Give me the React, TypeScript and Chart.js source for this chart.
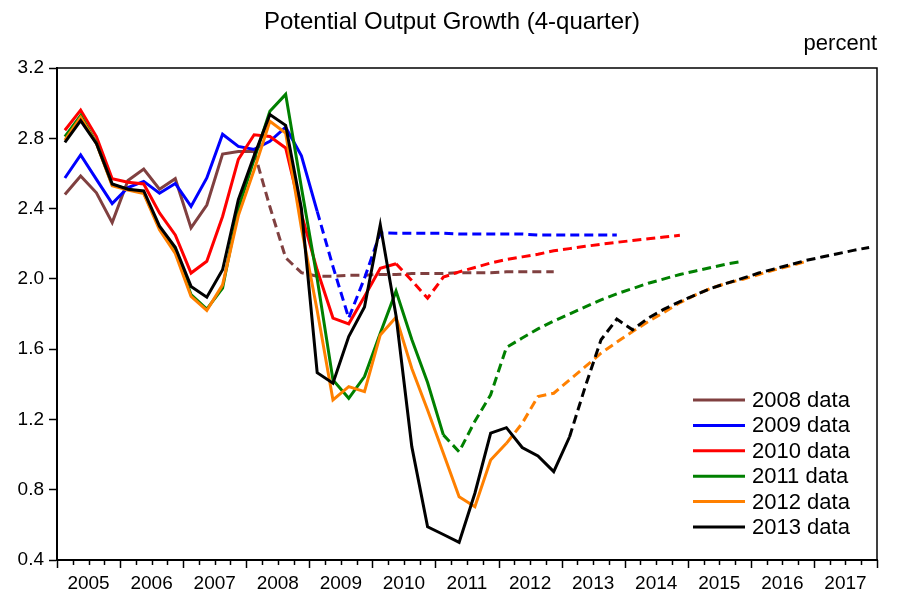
import { useEffect, useRef } from 'react';
import { Chart, registerables } from 'chart.js';

Chart.register(...registerables);

// ---------- data ----------
const titleText = 'Potential Output Growth (4-quarter)';
const unitText = 'percent';
const yearLabels = ['2005', '2006', '2007', '2008', '2009', '2010', '2011', '2012', '2013', '2014', '2015', '2016', '2017'];
const seriesLabels = ['2008 data', '2009 data', '2010 data', '2011 data', '2012 data', '2013 data'];
const seriesColors = ['#804040', '#0000ff', '#ff0000', '#008000', '#ff8000', '#000000'];

// quarterly values, starting 2005Q1; "actual" = solid, "proj" = dashed continuation
const actual2008 = [2.48, 2.585, 2.49, 2.32, 2.56, 2.625, 2.51, 2.57, 2.29, 2.42, 2.71, 2.725, 2.725];
const proj2008 = [2.41, 2.12, 2.035, 2.015, 2.015, 2.02, 2.02, 2.025, 2.025, 2.03, 2.03, 2.03, 2.035, 2.035, 2.035, 2.04, 2.04, 2.04, 2.04];

const actual2009 = [2.574, 2.705, 2.566, 2.428, 2.52, 2.555, 2.487, 2.543, 2.412, 2.574, 2.823, 2.754, 2.737, 2.783, 2.863, 2.70, 2.384];
const proj2009 = [2.07, 1.777, 2.004, 2.261, 2.26, 2.26, 2.26, 2.26, 2.255, 2.255, 2.255, 2.255, 2.255, 2.25, 2.25, 2.25, 2.25, 2.25, 2.25];

const actual2010 = [2.846, 2.96, 2.81, 2.57, 2.55, 2.54, 2.375, 2.25, 2.033, 2.10, 2.355, 2.68, 2.82, 2.81, 2.745, 2.37, 2.05, 1.777, 1.744, 1.90, 2.06, 2.086];
const proj2010 = [1.99, 1.89, 2.01, 2.04, 2.065, 2.09, 2.11, 2.125, 2.14, 2.16, 2.172, 2.185, 2.197, 2.208, 2.218, 2.228, 2.238, 2.248];

const actual2011 = [2.81, 2.93, 2.774, 2.536, 2.51, 2.49, 2.29, 2.166, 1.91, 1.828, 1.947, 2.40, 2.68, 2.954, 3.05, 2.52, 2.0, 1.425, 1.32, 1.444, 1.69, 1.93, 1.655, 1.41, 1.112];
const proj2011 = [1.016, 1.19, 1.34, 1.61, 1.663, 1.715, 1.76, 1.80, 1.84, 1.88, 1.915, 1.945, 1.975, 2.0, 2.025, 2.045, 2.065, 2.085, 2.10];

const actual2012 = [2.79, 2.92, 2.77, 2.53, 2.505, 2.485, 2.28, 2.145, 1.90, 1.82, 1.966, 2.36, 2.62, 2.897, 2.83, 2.29, 1.82, 1.311, 1.387, 1.358, 1.681, 1.782, 1.49, 1.254, 1.007, 0.76, 0.703, 0.969, 1.064];
const proj2012 = [1.178, 1.33, 1.349, 1.425, 1.50, 1.577, 1.64, 1.70, 1.757, 1.81, 1.865, 1.909, 1.947, 1.976, 1.998, 2.025, 2.051, 2.074, 2.099];

const actual2013 = [2.777, 2.90, 2.77, 2.54, 2.51, 2.50, 2.30, 2.18, 1.957, 1.896, 2.052, 2.45, 2.70, 2.935, 2.874, 2.40, 1.466, 1.406, 1.672, 1.84, 2.308, 1.79, 1.045, 0.589, 0.545, 0.50, 0.78, 1.122, 1.153, 1.04, 0.992, 0.903, 1.10];
const proj2013 = [1.387, 1.653, 1.771, 1.71, 1.777, 1.828, 1.871, 1.909, 1.947, 1.976, 2.004, 2.033, 2.057, 2.08, 2.105, 2.124, 2.143, 2.162, 2.179];

const actuals = [actual2008, actual2009, actual2010, actual2011, actual2012, actual2013];
const projs = [proj2008, proj2009, proj2010, proj2011, proj2012, proj2013];

const Y_MIN = 0.4;
const Y_MAX = 3.2;
const Y_STEP = 0.4;
const N_QUARTERS = yearLabels.length * 4;

const FONT = "'Liberation Sans', Arial, Helvetica, sans-serif";

export default function App() {
  const ref = useRef<HTMLCanvasElement>(null);

  useEffect(() => {
    const canvas = ref.current;
    if (!canvas) return;

    const datasets = seriesLabels.map((label, k) => {
      const vals = [...actuals[k], ...projs[k]];
      const nA = actuals[k].length;
      return {
        label,
        data: vals.map((v, i) => ({ x: i + 0.5, y: v })),
        borderColor: seriesColors[k],
        backgroundColor: seriesColors[k],
        borderWidth: 3,
        pointRadius: 0,
        pointHoverRadius: 0,
        tension: 0,
        fill: false,
        order: seriesLabels.length - k,
        segment: {
          borderDash: (ctx: any) => (ctx.p0DataIndex >= nA - 1 ? [9, 5] : undefined),
        },
      };
    });

    const decor = {
      id: 'decor',
      afterDraw(chart: any) {
        const { ctx, chartArea: a, scales } = chart;
        ctx.save();
        // frame
        ctx.strokeStyle = '#000';
        ctx.lineWidth = 1.5;
        ctx.strokeRect(a.left, a.top, a.right - a.left, a.bottom - a.top);
        // x tick marks (quarters minor, years major)
        const xs = scales.x;
        for (let q = 0; q <= N_QUARTERS; q++) {
          const px = Math.round(xs.getPixelForValue(q)) + 0.5;
          const len = q % 4 === 0 ? 8 : 5;
          ctx.beginPath();
          ctx.moveTo(px, a.bottom);
          ctx.lineTo(px, a.bottom + len);
          ctx.stroke();
        }
        // title
        ctx.fillStyle = '#000';
        ctx.font = `24px ${FONT}`;
        ctx.textAlign = 'center';
        ctx.textBaseline = 'alphabetic';
        ctx.fillText(titleText, 452, 29);
        // unit
        ctx.font = `22px ${FONT}`;
        ctx.textAlign = 'right';
        ctx.fillText(unitText, a.right, 50);
        // legend
        const x1 = 693;
        const x2 = 745;
        const tx = 752;
        const y0 = 400;
        const dy = 25.4;
        ctx.font = `22px ${FONT}`;
        ctx.textAlign = 'left';
        ctx.textBaseline = 'middle';
        chart.data.datasets.forEach((ds: any, k: number) => {
          const y = y0 + k * dy;
          ctx.strokeStyle = ds.borderColor;
          ctx.lineWidth = 3;
          ctx.setLineDash([]);
          ctx.beginPath();
          ctx.moveTo(x1, y);
          ctx.lineTo(x2, y);
          ctx.stroke();
          ctx.fillStyle = '#000';
          ctx.fillText(ds.label, tx, y + 1);
        });
        ctx.restore();
      },
    };

    const chart = new Chart(canvas, {
      type: 'line',
      data: { datasets: datasets as any },
      options: {
        animation: false,
        responsive: false,
        devicePixelRatio: 1,
        parsing: false as any,
        layout: { padding: { top: 68, right: 22, left: 0, bottom: 0 } },
        plugins: {
          legend: { display: false },
          title: { display: false },
          tooltip: { enabled: false },
        },
        scales: {
          x: {
            type: 'linear',
            min: 0,
            max: N_QUARTERS,
            afterFit: (s: any) => {
              s.height = 41;
            },
            border: { display: true, color: '#000', width: 2 },
            grid: {
              display: true,
              drawOnChartArea: false,
              drawTicks: true,
              tickLength: 8,
              tickColor: 'rgba(0,0,0,0)',
            },
            ticks: {
              stepSize: 1,
              autoSkip: false,
              maxRotation: 0,
              minRotation: 0,
              padding: 4,
              color: '#000',
              font: { family: FONT, size: 19 },
              callback: (v: any) => {
                const n = Math.round(Number(v));
                return n % 4 === 2 ? yearLabels[(n - 2) / 4] : '';
              },
            },
          },
          y: {
            type: 'linear',
            min: Y_MIN,
            max: Y_MAX,
            afterFit: (s: any) => {
              s.width = 57;
            },
            border: { display: true, color: '#000', width: 2 },
            grid: {
              display: true,
              drawOnChartArea: false,
              drawTicks: true,
              tickLength: 8,
              tickColor: '#000',
              tickWidth: 1.5,
            },
            ticks: {
              stepSize: Y_STEP,
              padding: 5,
              color: '#000',
              font: { family: FONT, size: 19 },
              callback: (v: any) => Number(v).toFixed(1),
            },
          },
        },
      } as any,
      plugins: [decor],
    });

    return () => chart.destroy();
  }, []);

  return (
    <div style={{ position: 'absolute', left: 0, top: 0, width: 899, height: 601, background: '#fff' }}>
      <canvas ref={ref} width={899} height={601} style={{ display: 'block' }} />
    </div>
  );
}
